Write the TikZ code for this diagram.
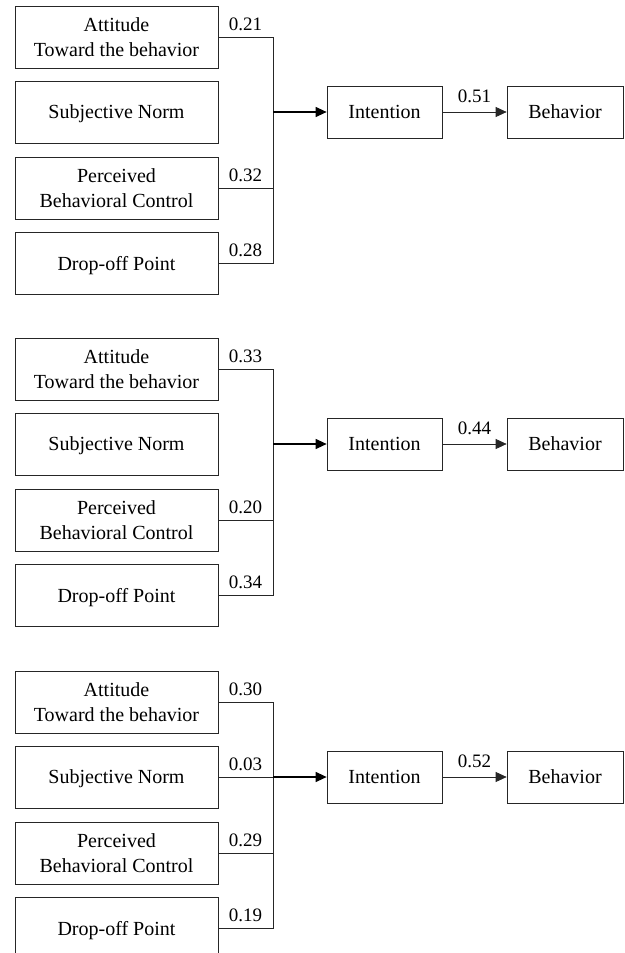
\documentclass[tikz,border=0pt]{standalone}
\usepackage{fontspec}
\setmainfont{Liberation Serif}
\usetikzlibrary{arrows.meta}
\begin{document}
\begin{tikzpicture}[x=1pt,y=-1pt,
  inbox/.style={draw=black!85,line width=0.7pt,minimum width=203pt,minimum height=62pt,inner sep=0pt,align=center,font=\fontsize{20}{25}\selectfont},
  oneline/.style={text depth=0pt},
  outbox/.style={draw=black!85,line width=0.7pt,minimum height=52pt,inner sep=0pt,font=\fontsize{20}{25}\selectfont},
  link/.style={draw=black!85,line width=0.7pt},
  mainarrow/.style={draw=black,line width=1.2pt,-{Triangle[length=11pt,width=10pt]}},
  thinarrow/.style={draw=black!85,line width=0.7pt,-{Triangle[length=11pt,width=10pt]}},
  coef/.style={font=\fontsize{19}{22}\selectfont,anchor=base,inner sep=0pt}]
\useasboundingbox (0,0) rectangle (624,953);
\clip (0,0) rectangle (624,953);
\foreach \p/\o/\ca/\cc/\cd/\ci in {1/0/0.21/0.32/0.28/0.51, 2/332/0.33/0.20/0.34/0.44, 3/665/0.30/0.29/0.19/0.52}{
  \node[inbox] (a\p) at (116.5,{37+\o}) {Attitude\\Toward the behavior};
  \node[inbox,oneline] (b\p) at (116.5,{112+\o}) {Subjective Norm};
  \node[inbox] (c\p) at (116.5,{188+\o}) {Perceived\\Behavioral Control};
  \node[inbox,oneline] (d\p) at (116.5,{263+\o}) {Drop-off Point};
  \coordinate (j\p) at (273,{112+\o});
  \node[outbox,minimum width=115pt] (i\p) at (384.5,{112+\o}) {Intention};
  \node[outbox,minimum width=116pt] (e\p) at (565,{112+\o}) {Behavior};
  \draw[link] (a\p.east) -- (a\p.east -| j\p) -- (d\p.east -| j\p) -- (d\p.east);
  \draw[link] (c\p.east) -- (c\p.east -| j\p);
  \draw[mainarrow] (j\p) -- (i\p.west);
  \draw[thinarrow] (i\p.east) -- (e\p.west);
  \node[coef] (la\p) at (245.5,{30+\o}) {\ca};
  \node[coef] (lc\p) at (245.5,{181+\o}) {\cc};
  \node[coef] (ld\p) at (245.5,{256+\o}) {\cd};
  \node[coef] (li\p) at (474.5,{102+\o}) {\ci};
}
\draw[link] (b3.east) -- (j3);
\node[coef] (lb3) at (245.5,{105+665}) {0.03};
\end{tikzpicture}
\end{document}
